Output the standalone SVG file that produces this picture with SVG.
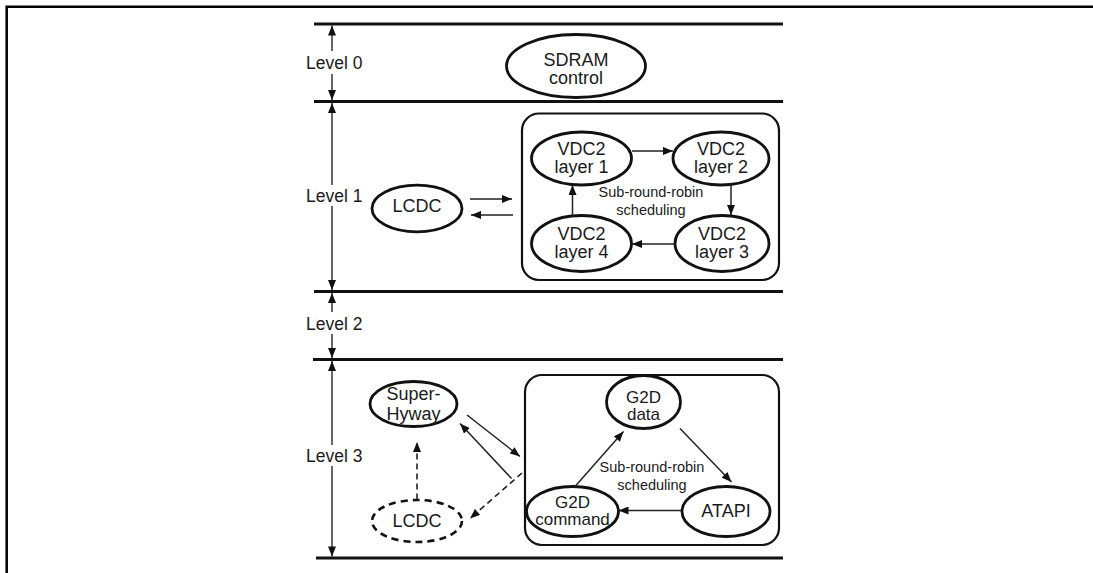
<svg xmlns="http://www.w3.org/2000/svg" width="1093" height="573" viewBox="0 0 1093 573">
<style>
  .t{font-family:"Liberation Sans",Arial,sans-serif;font-size:18px;fill:#1a1a1a;text-anchor:middle}
  .t2{font-family:"Liberation Sans",Arial,sans-serif;font-size:17px;fill:#1a1a1a;text-anchor:middle}
  .lv{font-family:"Liberation Sans",Arial,sans-serif;font-size:17.5px;fill:#1a1a1a}
  .s{font-family:"Liberation Sans",Arial,sans-serif;font-size:14.5px;fill:#1a1a1a;text-anchor:middle}
  .node{fill:#fff;stroke:#111;stroke-width:2.8}
  .dnode{fill:#fff;stroke:#111;stroke-width:2.6;stroke-dasharray:7 5}
  .box{fill:none;stroke:#111;stroke-width:2.2}
  .lvl{stroke:#111;stroke-width:3}
  .frame{stroke:#000;stroke-width:2.5;fill:none}
  .c{stroke:#222;stroke-width:1.5;fill:none}
  .d{stroke:#222;stroke-width:1.6;fill:none;stroke-dasharray:6 4}
  .v{stroke:#333;stroke-width:1.5;fill:none}
</style>
<defs>
  <marker id="ah" viewBox="0 0 10 8" refX="10" refY="4" markerWidth="11" markerHeight="8" markerUnits="userSpaceOnUse" orient="auto">
    <path d="M0,0 L10,4 L0,8 z" fill="#111"/>
  </marker>
</defs>
<rect width="1093" height="573" fill="#fff"/>
<g id="frame">
  <path class="frame" d="M6.7,573 V6.7 H1093"/>
</g>
<g id="levels">
  <line class="lvl" x1="314" y1="24" x2="783" y2="24"/>
  <line class="lvl" x1="314" y1="101.5" x2="783" y2="101.5"/>
  <line class="lvl" x1="314" y1="291.5" x2="783" y2="291.5"/>
  <line class="lvl" x1="313" y1="359.5" x2="783" y2="359.5"/>
  <line class="lvl" x1="316" y1="558" x2="783" y2="558"/>
  <text class="lv" x="306" y="69">Level 0</text>
  <text class="lv" x="306" y="202">Level 1</text>
  <text class="lv" x="306" y="330">Level 2</text>
  <text class="lv" x="306" y="462">Level 3</text>
  <line class="v" x1="332" y1="51" x2="332" y2="25.5" marker-end="url(#ah)"/>
  <line class="v" x1="332" y1="74" x2="332" y2="100" marker-end="url(#ah)"/>
  <line class="v" x1="332" y1="185" x2="332" y2="103" marker-end="url(#ah)"/>
  <line class="v" x1="332" y1="206" x2="332" y2="290" marker-end="url(#ah)"/>
  <line class="v" x1="332" y1="312" x2="332" y2="293" marker-end="url(#ah)"/>
  <line class="v" x1="332" y1="334" x2="332" y2="358" marker-end="url(#ah)"/>
  <line class="v" x1="332" y1="445" x2="332" y2="361" marker-end="url(#ah)"/>
  <line class="v" x1="332" y1="466" x2="332" y2="556.5" marker-end="url(#ah)"/>
</g>
<g id="sdram">
  <ellipse class="node" cx="576" cy="66" rx="69.5" ry="31.5"/>
  <text class="t" x="576" y="66">SDRAM</text>
  <text class="t" x="576" y="84">control</text>
</g>
<g id="box1">
  <rect class="box" x="522" y="113.5" width="257" height="166.5" rx="17"/>
  <text class="s" x="651" y="197">Sub-round-robin</text>
  <text class="s" x="651" y="215">scheduling</text>
</g>
<g id="lcdc1">
  <ellipse class="node" cx="417" cy="208.5" rx="45" ry="23.3"/>
  <text class="t" x="417" y="212">LCDC</text>
</g>
<g id="vdc1">
  <ellipse class="node" cx="581.5" cy="158.5" rx="50" ry="26.5"/>
  <text class="t" x="581.5" y="155">VDC2</text>
  <text class="t" x="581.5" y="173">layer 1</text>
</g>
<g id="vdc2">
  <ellipse class="node" cx="721" cy="158.5" rx="48" ry="26.5"/>
  <text class="t" x="721" y="155">VDC2</text>
  <text class="t" x="721" y="173">layer 2</text>
</g>
<g id="vdc3">
  <ellipse class="node" cx="722" cy="243.5" rx="47" ry="28"/>
  <text class="t" x="722" y="240">VDC2</text>
  <text class="t" x="722" y="258">layer 3</text>
</g>
<g id="vdc4">
  <ellipse class="node" cx="581.5" cy="243.5" rx="50" ry="28"/>
  <text class="t" x="581.5" y="240">VDC2</text>
  <text class="t" x="581.5" y="258">layer 4</text>
</g>
<g id="box3">
  <rect class="box" x="525" y="375" width="254" height="170" rx="17"/>
  <text class="s" x="652" y="472">Sub-round-robin</text>
  <text class="s" x="652" y="490">scheduling</text>
</g>
<g id="g2ddata">
  <ellipse class="node" cx="643.5" cy="402" rx="37" ry="26.5"/>
  <text class="t2" x="643.5" y="403">G2D</text>
  <text class="t2" x="643.5" y="420">data</text>
</g>
<g id="atapi">
  <ellipse class="node" cx="726" cy="511.5" rx="44" ry="25"/>
  <text class="t" x="726" y="517">ATAPI</text>
</g>
<g id="g2dcmd">
  <ellipse class="node" cx="572.5" cy="511.5" rx="46" ry="25"/>
  <text class="t2" x="572.5" y="508">G2D</text>
  <text class="t2" x="572.5" y="525">command</text>
</g>
<g id="superhyway">
  <ellipse class="node" cx="413.5" cy="404" rx="43.5" ry="22.5"/>
  <text class="t" x="413.5" y="400">Super-</text>
  <text class="t" x="413.5" y="420">Hyway</text>
</g>
<g id="lcdc3">
  <ellipse class="dnode" cx="417" cy="521" rx="45" ry="21"/>
  <text class="t" x="417" y="527">LCDC</text>
</g>
<g id="connectors">
  <line class="c" x1="470" y1="199" x2="512" y2="199" marker-end="url(#ah)"/>
  <line class="c" x1="513" y1="215" x2="471" y2="215" marker-end="url(#ah)"/>
  <line class="c" x1="632" y1="151" x2="673" y2="151" marker-end="url(#ah)"/>
  <line class="c" x1="731" y1="185" x2="731" y2="215" marker-end="url(#ah)"/>
  <line class="c" x1="675" y1="244" x2="632" y2="244" marker-end="url(#ah)"/>
  <line class="c" x1="572.5" y1="215.5" x2="572.5" y2="185" marker-end="url(#ah)"/>
  <line class="c" x1="575" y1="486.5" x2="623.5" y2="431.5" marker-end="url(#ah)"/>
  <line class="c" x1="680" y1="428.5" x2="731.5" y2="482" marker-end="url(#ah)"/>
  <line class="c" x1="681.5" y1="510.5" x2="618.5" y2="510.5" marker-end="url(#ah)"/>
  <line class="c" x1="467" y1="415" x2="520" y2="456.5" marker-end="url(#ah)"/>
  <line class="c" x1="511.5" y1="478.5" x2="460" y2="423.5" marker-end="url(#ah)"/>
  <line class="d" x1="522" y1="473" x2="470" y2="518.5" marker-end="url(#ah)"/>
  <line class="d" x1="417" y1="499.5" x2="417" y2="442" marker-end="url(#ah)"/>
</g>
</svg>
